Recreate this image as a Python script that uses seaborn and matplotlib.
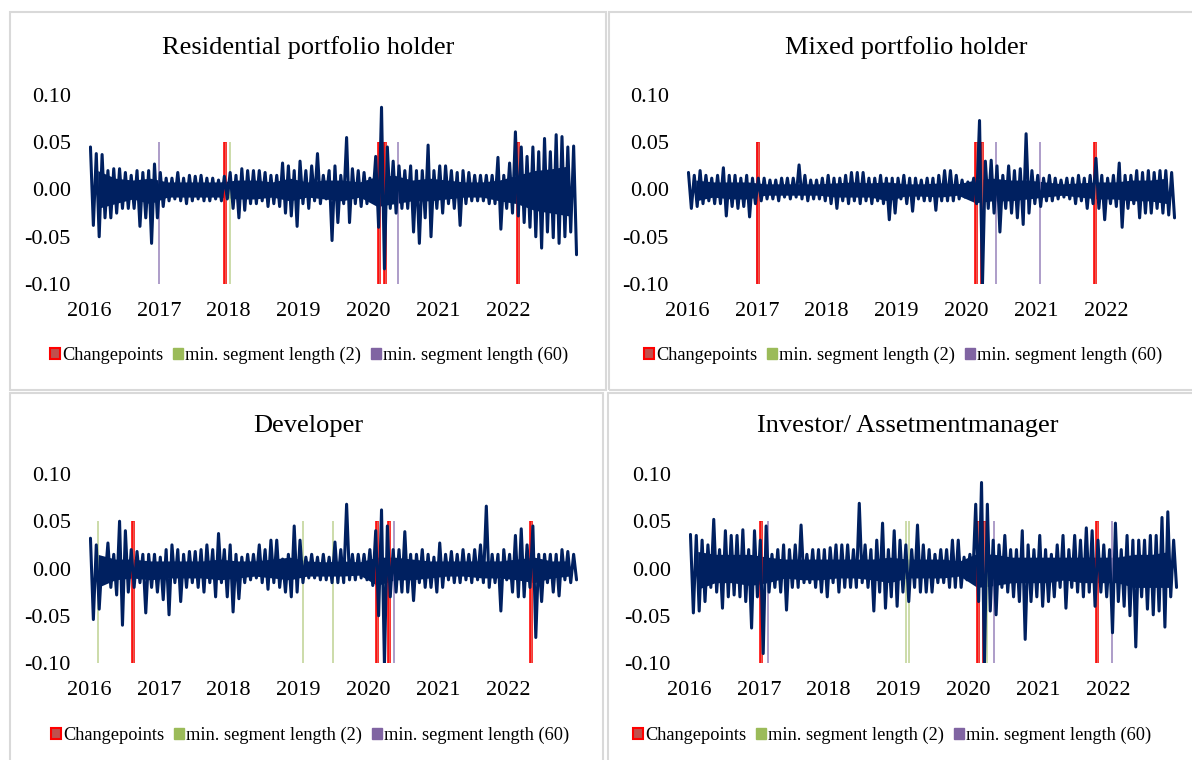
import numpy as np
import pandas as pd
import matplotlib
matplotlib.use("Agg")
import matplotlib.pyplot as plt
import seaborn as sns
from matplotlib.patches import Patch, Rectangle

sns.set_theme(style="white")
plt.rcParams["font.family"] = ["Liberation Serif", "DejaVu Serif"]
plt.rcParams["axes.unicode_minus"] = False
plt.rcParams["text.color"] = "black"

# monthly extremes of the daily returns, Jan 2016 .. Dec 2022
months = np.arange(84)
quarters = np.arange(28)
year_ticks = [2016, 2017, 2018, 2019, 2020, 2021, 2022]
y_ticks = [0.10, 0.05, 0.00, -0.05, -0.10]
y_labels = ["0.10", "0.05", "0.00", "-0.05", "-0.10"]
legend_labels = ["Changepoints", "min. segment length (2)", "min. segment length (60)"]

res_hi = [0.045, 0.038, 0.037, 0.020, 0.022, 0.022, 0.018, 0.015, 0.020, 0.018, 0.020, 0.027,
          0.018, 0.012, 0.012, 0.018, 0.012, 0.015, 0.014, 0.015, 0.012, 0.012, 0.010, 0.014,
          0.018, 0.015, 0.022, 0.020, 0.020, 0.020, 0.018, 0.015, 0.015, 0.028, 0.025, 0.020,
          0.030, 0.020, 0.025, 0.038, 0.015, 0.020, 0.025, 0.015, 0.055, 0.022, 0.020, 0.018,
          0.012, 0.035, 0.087, 0.045, 0.030, 0.025, 0.020, 0.025, 0.020, 0.020, 0.047, 0.020,
          0.025, 0.025, 0.020, 0.018, 0.020, 0.018, 0.015, 0.015, 0.015, 0.015, 0.034, 0.015,
          0.028, 0.061, 0.045, 0.035, 0.045, 0.040, 0.054, 0.040, 0.058, 0.056, 0.045, 0.046]
res_lo = [-0.038, -0.050, -0.030, -0.030, -0.025, -0.020, -0.020, -0.020, -0.039, -0.030, -0.057, -0.030,
          -0.018, -0.012, -0.010, -0.012, -0.015, -0.012, -0.010, -0.012, -0.012, -0.010, -0.012, -0.010,
          -0.020, -0.030, -0.022, -0.015, -0.015, -0.012, -0.018, -0.015, -0.018, -0.025, -0.028, -0.039,
          -0.015, -0.020, -0.012, -0.015, -0.010, -0.054, -0.035, -0.015, -0.035, -0.015, -0.018, -0.015,
          -0.010, -0.040, -0.084, -0.020, -0.025, -0.020, -0.020, -0.045, -0.057, -0.030, -0.050, -0.020,
          -0.025, -0.015, -0.020, -0.038, -0.015, -0.012, -0.012, -0.012, -0.015, -0.015, -0.042, -0.020,
          -0.025, -0.028, -0.035, -0.040, -0.050, -0.062, -0.045, -0.051, -0.057, -0.050, -0.045, -0.069]
# dense body of the series, per quarter
res_body_hi = [0.020, 0.012, 0.010, 0.012, 0.008, 0.008, 0.008, 0.008, 0.010, 0.010, 0.008, 0.012, 0.008, 0.010,
               0.010, 0.008, 0.014, 0.015, 0.010, 0.012, 0.010, 0.008, 0.008, 0.010, 0.015, 0.020, 0.022, 0.025]
res_body_lo = [-0.020, -0.015, -0.010, -0.015, -0.008, -0.008, -0.008, -0.008, -0.010, -0.010, -0.008, -0.012, -0.008, -0.010,
               -0.012, -0.008, -0.018, -0.015, -0.012, -0.012, -0.010, -0.008, -0.008, -0.012, -0.015, -0.022, -0.025, -0.028]

mix_hi = [0.018, 0.015, 0.020, 0.015, 0.012, 0.015, 0.023, 0.015, 0.015, 0.012, 0.015, 0.012,
          0.012, 0.012, 0.010, 0.010, 0.012, 0.012, 0.012, 0.026, 0.015, 0.010, 0.010, 0.012,
          0.015, 0.012, 0.012, 0.015, 0.018, 0.018, 0.018, 0.012, 0.012, 0.015, 0.012, 0.012,
          0.012, 0.015, 0.012, 0.012, 0.010, 0.012, 0.012, 0.015, 0.020, 0.020, 0.015, 0.010,
          0.008, 0.012, 0.073, 0.030, 0.031, 0.025, 0.015, 0.025, 0.020, 0.022, 0.059, 0.020,
          0.015, 0.012, 0.015, 0.012, 0.010, 0.012, 0.012, 0.015, 0.012, 0.015, 0.033, 0.015,
          0.012, 0.015, 0.028, 0.015, 0.015, 0.020, 0.018, 0.020, 0.018, 0.020, 0.020, 0.018]
mix_lo = [-0.020, -0.018, -0.015, -0.012, -0.015, -0.015, -0.028, -0.018, -0.020, -0.018, -0.029, -0.015,
          -0.012, -0.010, -0.010, -0.012, -0.008, -0.010, -0.008, -0.010, -0.012, -0.010, -0.010, -0.012,
          -0.015, -0.020, -0.012, -0.015, -0.012, -0.015, -0.012, -0.015, -0.012, -0.015, -0.032, -0.025,
          -0.010, -0.015, -0.023, -0.010, -0.012, -0.012, -0.022, -0.012, -0.012, -0.012, -0.010, -0.008,
          -0.005, -0.015, -0.102, -0.020, -0.025, -0.045, -0.020, -0.025, -0.030, -0.037, -0.025, -0.015,
          -0.018, -0.012, -0.012, -0.010, -0.008, -0.010, -0.015, -0.012, -0.020, -0.015, -0.020, -0.032,
          -0.015, -0.018, -0.040, -0.020, -0.015, -0.030, -0.025, -0.025, -0.020, -0.025, -0.027, -0.030]
mix_body_hi = [0.010, 0.008, 0.008, 0.008, 0.006, 0.006, 0.006, 0.006, 0.007, 0.008, 0.007, 0.008, 0.006, 0.006,
               0.007, 0.006, 0.010, 0.012, 0.010, 0.010, 0.008, 0.006, 0.007, 0.008, 0.008, 0.010, 0.010, 0.012]
mix_body_lo = [-0.012, -0.008, -0.010, -0.010, -0.006, -0.006, -0.006, -0.006, -0.008, -0.008, -0.008, -0.012, -0.007, -0.007,
               -0.008, -0.006, -0.014, -0.012, -0.012, -0.010, -0.008, -0.006, -0.008, -0.010, -0.010, -0.012, -0.012, -0.015]

dev_hi = [0.032, 0.025, 0.010, 0.027, 0.015, 0.050, 0.040, 0.020, 0.018, 0.015, 0.015, 0.015,
          0.012, 0.020, 0.025, 0.020, 0.015, 0.018, 0.018, 0.020, 0.025, 0.020, 0.037, 0.020,
          0.025, 0.015, 0.012, 0.015, 0.015, 0.025, 0.020, 0.030, 0.030, 0.010, 0.015, 0.045,
          0.030, 0.012, 0.015, 0.012, 0.015, 0.012, 0.028, 0.020, 0.068, 0.015, 0.015, 0.015,
          0.020, 0.040, 0.062, 0.045, 0.020, 0.020, 0.039, 0.015, 0.015, 0.020, 0.015, 0.012,
          0.027, 0.015, 0.018, 0.015, 0.020, 0.015, 0.020, 0.025, 0.066, 0.015, 0.015, 0.020,
          0.015, 0.035, 0.042, 0.025, 0.045, 0.015, 0.015, 0.015, 0.015, 0.020, 0.018, 0.015]
dev_lo = [-0.054, -0.043, -0.012, -0.020, -0.028, -0.060, -0.025, -0.020, -0.015, -0.047, -0.020, -0.025,
          -0.033, -0.049, -0.015, -0.035, -0.020, -0.015, -0.020, -0.025, -0.015, -0.030, -0.015, -0.030,
          -0.046, -0.032, -0.015, -0.012, -0.010, -0.015, -0.022, -0.015, -0.020, -0.025, -0.030, -0.025,
          -0.015, -0.010, -0.010, -0.012, -0.012, -0.015, -0.015, -0.015, -0.012, -0.012, -0.010, -0.012,
          -0.018, -0.050, -0.102, -0.030, -0.025, -0.025, -0.025, -0.034, -0.015, -0.020, -0.020, -0.025,
          -0.020, -0.012, -0.015, -0.015, -0.012, -0.015, -0.012, -0.015, -0.020, -0.015, -0.045, -0.012,
          -0.025, -0.030, -0.030, -0.020, -0.073, -0.035, -0.015, -0.025, -0.029, -0.012, -0.015, -0.012]
dev_body_hi = [0.015, 0.010, 0.010, 0.008, 0.008, 0.008, 0.008, 0.010, 0.008, 0.008, 0.010, 0.012, 0.008, 0.007,
               0.008, 0.007, 0.012, 0.012, 0.010, 0.008, 0.008, 0.008, 0.008, 0.008, 0.010, 0.012, 0.008, 0.008]
dev_body_lo = [-0.020, -0.012, -0.010, -0.012, -0.010, -0.010, -0.010, -0.012, -0.010, -0.008, -0.010, -0.012, -0.008, -0.008,
               -0.008, -0.007, -0.018, -0.012, -0.012, -0.010, -0.008, -0.008, -0.010, -0.010, -0.012, -0.015, -0.010, -0.008]

inv_hi = [0.036, 0.035, 0.030, 0.025, 0.052, 0.020, 0.040, 0.035, 0.035, 0.041, 0.020, 0.040,
          0.030, 0.045, 0.015, 0.020, 0.025, 0.020, 0.025, 0.046, 0.015, 0.020, 0.020, 0.020,
          0.022, 0.025, 0.025, 0.025, 0.020, 0.069, 0.025, 0.020, 0.030, 0.048, 0.020, 0.040,
          0.030, 0.025, 0.020, 0.046, 0.025, 0.020, 0.015, 0.020, 0.020, 0.030, 0.030, 0.012,
          0.015, 0.068, 0.091, 0.068, 0.030, 0.025, 0.035, 0.020, 0.020, 0.040, 0.025, 0.020,
          0.035, 0.020, 0.015, 0.025, 0.035, 0.020, 0.035, 0.030, 0.043, 0.040, 0.030, 0.025,
          0.020, 0.048, 0.020, 0.035, 0.030, 0.030, 0.030, 0.035, 0.035, 0.054, 0.060, 0.030]
inv_lo = [-0.047, -0.045, -0.035, -0.020, -0.025, -0.042, -0.030, -0.028, -0.030, -0.035, -0.063, -0.030,
          -0.090, -0.025, -0.020, -0.025, -0.044, -0.020, -0.020, -0.015, -0.015, -0.020, -0.025, -0.030,
          -0.015, -0.025, -0.020, -0.020, -0.020, -0.015, -0.020, -0.045, -0.025, -0.042, -0.030, -0.040,
          -0.025, -0.035, -0.020, -0.025, -0.025, -0.025, -0.015, -0.015, -0.020, -0.020, -0.020, -0.012,
          -0.010, -0.035, -0.101, -0.045, -0.049, -0.020, -0.025, -0.030, -0.035, -0.075, -0.035, -0.030,
          -0.040, -0.035, -0.030, -0.020, -0.042, -0.020, -0.025, -0.030, -0.025, -0.040, -0.025, -0.030,
          -0.068, -0.035, -0.040, -0.050, -0.083, -0.030, -0.043, -0.049, -0.045, -0.062, -0.030, -0.020]
inv_body_hi = [0.018, 0.015, 0.015, 0.015, 0.012, 0.010, 0.010, 0.010, 0.010, 0.010, 0.010, 0.012, 0.010, 0.010,
               0.010, 0.008, 0.016, 0.015, 0.012, 0.012, 0.012, 0.012, 0.012, 0.012, 0.012, 0.015, 0.015, 0.018]
inv_body_lo = [-0.022, -0.015, -0.015, -0.018, -0.015, -0.010, -0.012, -0.012, -0.010, -0.010, -0.012, -0.015, -0.010, -0.010,
               -0.010, -0.008, -0.020, -0.018, -0.015, -0.015, -0.015, -0.012, -0.015, -0.015, -0.015, -0.020, -0.020, -0.020]

# changepoint dates (fractional years)
res_cp, res_seg2, res_seg60 = [2017.95, 2020.15, 2020.24, 2022.14], [2018.02], [2017.00, 2020.43]
mix_cp, mix_seg2, mix_seg60 = [2017.01, 2020.13, 2020.22, 2021.84], [2020.23], [2017.00, 2020.43, 2021.06]
dev_cp, dev_seg2, dev_seg60 = [2016.63, 2020.12, 2020.29, 2022.33], [2016.13, 2019.06, 2019.49, 2020.29], [2020.36]
inv_cp, inv_seg2, inv_seg60 = [2017.03, 2020.14, 2020.22, 2021.84], [2019.11, 2019.15, 2020.27], [2017.13, 2020.36, 2022.05]

W, H = 1192, 760
fig = plt.figure(figsize=(W / 100, H / 100), dpi=100)
fig.patch.set_facecolor("white")

def fx(px):
    return px / W

def fy(py):
    return 1 - py / H

panels = [
    # title, hi, lo, body hi, body lo, cp, seg2, seg60, plot box (x0, x1, ytop, ybot), frame, title xy, legend xy
    ("Residential portfolio holder", res_hi, res_lo, res_body_hi, res_body_lo, res_cp, res_seg2, res_seg60,
     (89, 578, 95, 284), (10, 12, 606, 390), (308, 48), (309, 355)),
    ("Mixed portfolio holder", mix_hi, mix_lo, mix_body_hi, mix_body_lo, mix_cp, mix_seg2, mix_seg60,
     (687, 1176, 95, 284), (609, 12, 1200, 390), (906, 48), (903, 355)),
    ("Developer", dev_hi, dev_lo, dev_body_hi, dev_body_lo, dev_cp, dev_seg2, dev_seg60,
     (89, 578, 474, 663), (10, 393, 603, 770), (308, 426), (310, 735)),
    ("Investor/ Assetmentmanager", inv_hi, inv_lo, inv_body_hi, inv_body_lo, inv_cp, inv_seg2, inv_seg60,
     (689, 1178, 474, 663), (608, 393, 1200, 770), (908, 426), (892, 735)),
]

handles = [Patch(facecolor="#C0504D", edgecolor="#FF0000", linewidth=1.5),
           Patch(facecolor="#9BBB59", edgecolor="#9BBB59"),
           Patch(facecolor="#8064A2", edgecolor="#8064A2")]

navy = "#002060"

for title, hi, lo, bhi, blo, cp, seg2, seg60, box, frame, txy, lxy in panels:
    fx0, fy0, fx1, fy1 = frame
    fig.add_artist(Rectangle((fx(fx0), fy(fy1)), fx(fx1 - fx0), (fy1 - fy0) / H,
                             transform=fig.transFigure, fill=False,
                             edgecolor="#D9D9D9", linewidth=1.5))

    x0, x1, yt, yb = box
    ax = fig.add_axes([fx(x0), fy(yb), fx(x1 - x0), (yb - yt) / H])

    t = np.empty(2 * len(months))
    t[0::2] = 2016 + (months + 0.25) / 12
    t[1::2] = 2016 + (months + 0.75) / 12
    r = np.empty(2 * len(months))
    r[0::2] = hi
    r[1::2] = lo
    df = pd.DataFrame({"t": t, "r": r})

    # dense body of the daily series
    ax.fill_between(2016 + (quarters + 0.5) / 4, blo, bhi, color=navy, linewidth=0, zorder=1.2)

    ax.vlines(seg2, -0.10, 0.05, color="#C3D69B", linewidth=1.2, zorder=1.3)
    ax.vlines(seg60, -0.10, 0.05, color="#A08CC0", linewidth=1.2, zorder=1.3)
    ax.vlines(cp, -0.10, 0.05, color="#FF0000", linewidth=2.6, zorder=1.5)
    ax.vlines(cp, -0.10, 0.05, color="#E8584F", linewidth=1.0, zorder=1.6)

    sns.lineplot(data=df, x="t", y="r", sort=False, estimator=None,
                 color=navy, linewidth=2.2, ax=ax, zorder=2)

    ax.set_xlim(2016.0, 2023.0)
    ax.set_ylim(-0.10, 0.10)
    ax.set_xticks(year_ticks)
    ax.set_xticklabels([str(y) for y in year_ticks])
    ax.set_yticks(y_ticks)
    ax.set_yticklabels(y_labels)
    ax.tick_params(axis="both", length=0, labelsize=16, colors="black")
    ax.tick_params(axis="y", pad=13)
    ax.tick_params(axis="x", pad=13)
    ax.set_xlabel("")
    ax.set_ylabel("")
    for s in ax.spines.values():
        s.set_visible(False)
    ax.patch.set_alpha(0)

    fig.text(fx(txy[0]), fy(txy[1]), title, ha="center", va="center", fontsize=19)
    fig.legend(handles, legend_labels, loc="center", bbox_to_anchor=(fx(lxy[0]), fy(lxy[1])),
               ncol=3, frameon=False, fontsize=13.2, handlelength=0.55, handleheight=0.55,
               handletextpad=0.15, columnspacing=0.5, borderaxespad=0, borderpad=0)

fig.savefig("out.png", dpi=100, facecolor="white")
